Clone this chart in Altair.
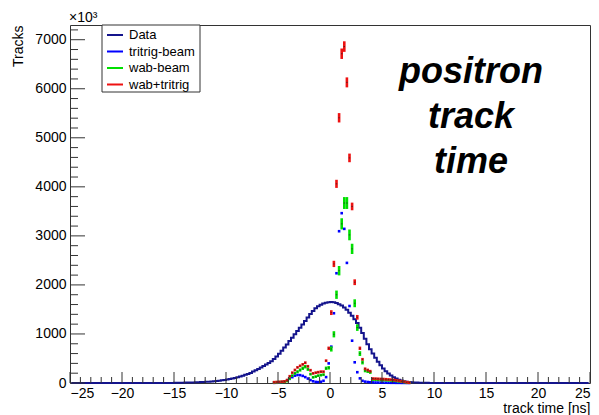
import altair as alt
import pandas as pd
import numpy as np

BIN_W = 0.25

# ---- Data histogram (bin centres start at -24.875, width 0.25) ----
data_start = -24.875
data_counts = (
    [0] * 40
    + [4, 5, 6, 7, 8, 9, 10, 12, 14, 16, 18, 21, 24, 28, 32, 37, 42,
       48, 55, 62, 71, 80, 91, 104, 118, 133, 149, 166, 184, 205, 232, 258, 285,
       315, 345, 376, 410, 445, 490, 540, 598, 660, 722, 785, 854, 923, 992,
       1060, 1128, 1195, 1265, 1335, 1405, 1470, 1525, 1566, 1598, 1621, 1637,
       1646, 1650, 1645, 1630, 1608, 1578, 1540, 1492, 1435, 1370, 1300, 1222,
       1125, 1020, 900, 790, 690, 600, 515, 435, 362, 298, 242, 192, 152, 118,
       90, 68, 50, 37, 28, 21, 15, 11, 8, 6, 5, 4, 3, 2, 2, 1, 1, 1, 1]
)
data_counts = data_counts + [0] * (200 - len(data_counts))

# ---- MC samples (bin centres from -5.375, width 0.25) ----
mc_start = -5.375
wab_tritrig = [16, 19, 22, 26, 32,
               60, 137, 210, 265, 318, 350, 380, 414, 340, 260, 196, 210, 220, 231, 231, 455,
               708, 1435, 2428, 4061, 5408, 6714, 6860, 6130, 4590, 3600, 2055, 1340, 708, 483, 290, 265,
               240, 90, 88, 85, 82, 80, 76, 72, 68, 62, 55, 45, 35, 25, 15, 8]
wab_beam = [12, 14, 17, 20, 25,
            40, 90, 150, 196, 230, 265, 300, 333, 280, 180, 116, 130, 150, 160, 170, 300,
            310, 694, 993, 1800, 2290, 3245, 3670, 3670, 3020, 2735, 1626, 1130, 600, 420, 250, 235,
            215, 70, 68, 66, 62, 60, 58, 55, 52, 48, 42, 35, 28, 20, 12, 6]
tritrig_beam = [3, 5, 8, 18, 30,
                50, 85, 120, 150, 163, 160, 145, 120, 90, 60, 35, 22, 18, 25, 45, 120,
                400, 741, 1422, 2238, 3095, 3463, 3143, 2449, 1570, 863, 422, 220, 95, 45, 28, 20,
                15, 12, 10, 9, 8, 7, 6, 5, 4, 4, 3, 3, 2, 2, 1, 1]

series_names = ["Data", "tritrig-beam", "wab-beam", "wab+tritrig"]
series_colors = ["#14148c", "#0000ff", "#00e000", "#ee1111"]

x_major = [-25, -20, -15, -10, -5, 0, 5, 10, 15, 20, 25]
x_minor = [v for v in range(-25, 26) if v % 5 != 0]
y_major = [0, 1000, 2000, 3000, 4000, 5000, 6000, 7000]
y_minor = [v for v in range(0, 7301, 200) if v % 1000 != 0]

FONT = "Liberation Sans"
W, H = 520, 358
MIN_ERR = 28  # smallest half-height of an error bar (visibility)

df_data = pd.DataFrame({
    "t": [data_start + i * BIN_W for i in range(len(data_counts))],
    "v": data_counts,
    "series": "Data",
})


def mc_frame(vals, name, k):
    t = np.array([mc_start + i * BIN_W for i in range(len(vals))])
    v = np.array(vals, dtype=float)
    err = np.maximum(k * np.sqrt(v), MIN_ERR)
    return pd.DataFrame({
        "t": t, "v": v, "lo": v - err, "hi": v + err,
        "x1": t - BIN_W / 2, "x2": t + BIN_W / 2,
        "m1": t - 0.07, "m2": t + 0.07,
        "series": name,
    })


df_blue = mc_frame(tritrig_beam, "tritrig-beam", 0.0)
df_green = mc_frame(wab_beam, "wab-beam", 2.0)
df_red = mc_frame(wab_tritrig, "wab+tritrig", 1.3)

xscale = alt.Scale(domain=[-25, 25], nice=False, zero=False)
yscale = alt.Scale(domain=[0, 7300], nice=False, zero=False)
cscale = alt.Scale(domain=series_names, range=series_colors)

xaxis = alt.Axis(values=x_major, format="d", ticks=False, domain=False, grid=False,
                 labelFont=FONT, labelFontSize=14, labelColor="black", labelPadding=3,
                 title="track time [ns]", titleFont=FONT, titleFontSize=14,
                 titleFontWeight="normal", titleColor="black", titleAnchor="end",
                 titleAlign="right", titleBaseline="alphabetic", titleY=29)
yaxis = alt.Axis(values=y_major, format="d", ticks=False, domain=False, grid=False,
                 labelFont=FONT, labelFontSize=14, labelColor="black", labelPadding=4,
                 title="Tracks", titleFont=FONT, titleFontSize=14,
                 titleFontWeight="normal", titleColor="black", titleAnchor="end",
                 titleAngle=270, titleAlign="right", titleBaseline="alphabetic",
                 titleX=-48, titleY=0)

legend = alt.Legend(title=None, orient="none", legendX=36, legendY=1,
                    symbolType="stroke", symbolStrokeWidth=2, symbolSize=256,
                    labelFont=FONT, labelFontSize=13, labelColor="black",
                    labelOffset=5, rowPadding=0.5, padding=0)


def X(field):
    return alt.X(f"{field}:Q", scale=xscale, axis=xaxis)


def Y(field):
    return alt.Y(f"{field}:Q", scale=yscale, axis=yaxis)


color_enc = alt.Color("series:N", scale=cscale, legend=legend)

data_line = alt.Chart(df_data).mark_line(interpolate="step", strokeWidth=2).encode(
    x=X("t"), y=Y("v"), color=color_enc)

blue_pts = alt.Chart(df_blue).mark_rule(strokeWidth=2.6, strokeCap="butt").encode(
    x=X("x1"), x2="x2", y=Y("v"), color=color_enc)


def err_layer(df):
    bars = alt.Chart(df).mark_rule(strokeWidth=2.6, strokeCap="butt").encode(
        x=X("t"), y=Y("lo"), y2="hi", color=color_enc)
    ticks = alt.Chart(df).mark_rule(strokeWidth=1, color="#222222", opacity=0.7).encode(
        x=X("m1"), x2="m2", y=Y("v"))
    return bars + ticks


green_layer = err_layer(df_green)
red_layer = err_layer(df_red)

tick_color = "#333333"
xmaj = alt.Chart(pd.DataFrame({"t": x_major})).mark_rule(color=tick_color).encode(
    x=X("t"), y=alt.value(H), y2=alt.value(H - 11))
xmin = alt.Chart(pd.DataFrame({"t": x_minor})).mark_rule(color=tick_color).encode(
    x=X("t"), y=alt.value(H), y2=alt.value(H - 6))
ymaj = alt.Chart(pd.DataFrame({"v": y_major})).mark_rule(color=tick_color).encode(
    y=Y("v"), x=alt.value(0), x2=alt.value(15))
ymin = alt.Chart(pd.DataFrame({"v": y_minor})).mark_rule(color=tick_color).encode(
    y=Y("v"), x=alt.value(0), x2=alt.value(8))

legend_box = alt.Chart(pd.DataFrame({"a": [0]})).mark_rect(
    fill="white", stroke="#333333", strokeWidth=1).encode(
    x=alt.value(32), x2=alt.value(130), y=alt.value(0), y2=alt.value(67))

big_text = alt.Chart(pd.DataFrame({"a": [0]})).mark_text(
    text=["positron", "track", "time"], font=FONT, fontSize=36, fontWeight="bold",
    fontStyle="italic", align="center", baseline="alphabetic", lineHeight=45,
    color="black").encode(x=alt.value(401), y=alt.value(58))

exp_text = alt.Chart(pd.DataFrame({"a": [0]})).mark_text(
    text="×10³", font=FONT, fontSize=14, align="left", baseline="alphabetic",
    color="black").encode(x=alt.value(-1), y=alt.value(-3))

chart = alt.layer(
    data_line, blue_pts, green_layer, red_layer,
    xmaj, xmin, ymaj, ymin, legend_box, big_text, exp_text
).properties(
    width=W, height=H,
    padding={"left": 70, "top": 25, "right": 9, "bottom": 32},
    autosize="none",
    background="white",
).configure_view(stroke="#333333", strokeWidth=1)

chart.save("out.html", embed_options={"renderer": "svg", "actions": False})
